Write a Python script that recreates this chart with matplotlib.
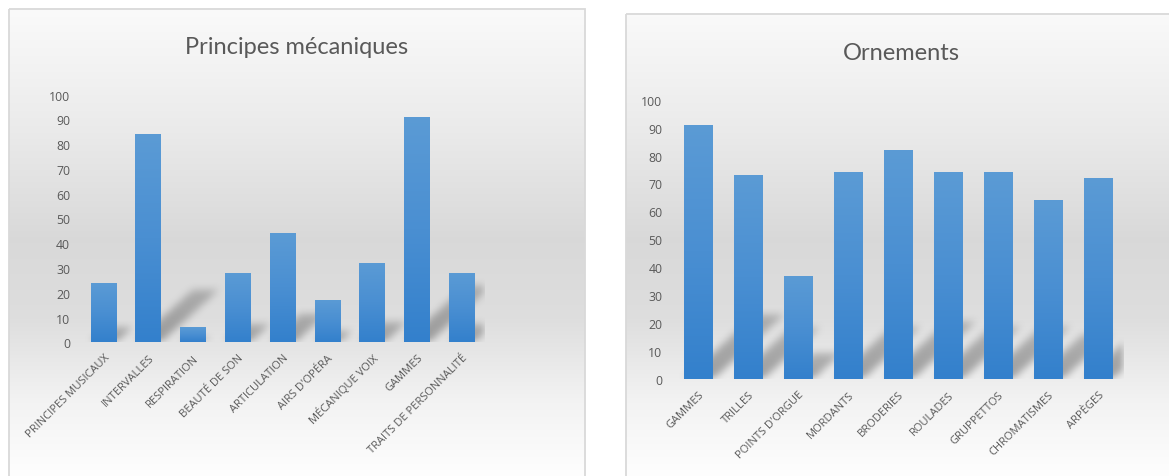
import numpy as np
import matplotlib
matplotlib.use("Agg")
from matplotlib import pyplot as plt
from matplotlib.colors import LinearSegmentedColormap
from matplotlib.patches import Rectangle

# data
cats_left = ["PRINCIPES MUSICAUX", "INTERVALLES", "RESPIRATION", "BEAUTÉ DE SON",
             "ARTICULATION", "AIRS D'OPÉRA", "MÉCANIQUE VOIX", "GAMMES",
             "TRAITS DE PERSONNALITÉ"]
vals_left = [24, 84, 6, 28, 44, 17, 32, 91, 28]

cats_right = ["GAMMES", "TRILLES", "POINTS D'ORGUE", "MORDANTS", "BRODERIES",
              "ROULADES", "GRUPPETTOS", "CHROMATISMES", "ARPÈGES"]
vals_right = [91, 73, 37, 74, 82, 74, 74, 64, 72]

W, H = 1169, 477
plt.rcParams['font.family'] = ['Open Sans', 'DejaVu Sans']
fig = plt.figure(figsize=(W / 100, H / 100), dpi=100)
fig.patch.set_facecolor("white")

# panel backgrounds (white -> gray -> white)
bg = fig.add_axes([0, 0, 1, 1])
bg.set_xlim(0, W)
bg.set_ylim(H, 0)
bg.axis("off")

def panel_gradient(top, bottom):
    ys = np.linspace(top, bottom, 300)
    stops_y = [0, 40, 130, 240, 320, 400, 477]
    stops_v = [0.985, 0.965, 0.92, 0.85, 0.87, 0.95, 0.995]
    v = np.interp(ys, stops_y, stops_v)
    return np.repeat(v[:, None], 3, axis=1)[:, None, :]

for (l, r, t) in [(9, 585, 10), (626, W + 5, 15)]:
    bg.imshow(panel_gradient(t, H + 2), extent=(l, r, H + 2, t), aspect="auto",
              origin="upper", interpolation="bilinear")
    bg.add_patch(Rectangle((l, t), r - l, H + 10 - t, fill=False,
                           ec="#d9d9d9", lw=1.3))
bg.set_xlim(0, W)
bg.set_ylim(H, 0)

bar_cmap = LinearSegmentedColormap.from_list("bar", ["#3380cc", "#4a8fd2", "#5b9bd5"])


def box_blur(a, r):
    k = np.ones(2 * r + 1) / (2 * r + 1)
    for _ in range(2):
        a = np.apply_along_axis(lambda m: np.convolve(m, k, mode="same"), 0, a)
        a = np.apply_along_axis(lambda m: np.convolve(m, k, mode="same"), 1, a)
    return a


def draw_chart(rect, cats, vals, title, title_xy):
    ax = fig.add_axes(rect)
    ax.set_facecolor("none")
    x = np.arange(len(cats))
    width = 0.58
    xlim = (-0.5, len(cats) - 0.5)
    ax.set_xlim(*xlim)
    ax.set_ylim(0, 100)

    # perspective shadows
    px_w = rect[2] * W
    px_h = rect[3] * H
    nx, ny = int(px_w), int(px_h)
    gx = np.linspace(xlim[0], xlim[1], nx)
    gy = np.linspace(0, 100, ny)
    XX, YY = np.meshgrid(gx, gy)
    mask = np.zeros_like(XX)
    for xi, v in zip(x, vals):
        hs = 0.25 * v
        dx = 1.1 * hs * (px_h / 100) / (px_w / len(cats))
        frac = np.clip(YY / max(hs, 1e-6), 0, None)
        left = xi - width / 2 + dx * frac
        inside = (YY <= hs) & (XX >= left) & (XX <= left + width)
        mask = np.maximum(mask, inside * (1 - 0.3 * frac))
    mask = box_blur(mask, 4)
    shadow = np.zeros((ny, nx, 4))
    shadow[..., :3] = 0.42
    shadow[..., 3] = np.clip(mask, 0, 1) * 0.6
    ax.imshow(shadow, extent=(xlim[0], xlim[1], 0, 100), origin="lower",
              aspect="auto", zorder=1, interpolation="bilinear")

    bars = ax.bar(x, vals, width=width, color="none", zorder=3)
    grad = np.linspace(0, 1, 256)[:, None]
    for b in bars:
        x0, y0 = b.get_x(), b.get_y()
        im = ax.imshow(grad, extent=(x0, x0 + b.get_width(), y0, y0 + b.get_height()),
                       origin="lower", aspect="auto", cmap=bar_cmap, zorder=2)
        im.set_clip_path(b)

    ax.set_xlim(*xlim)
    ax.set_ylim(0, 100)
    ax.set_yticks(range(0, 101, 10))
    ax.set_xticks(x)
    ax.set_xticklabels(cats, rotation=45, ha="right", rotation_mode="anchor")
    ax.tick_params(axis="both", length=0, labelcolor="#595959")
    ax.tick_params(axis="y", pad=8, labelsize=8.8)
    ax.tick_params(axis="x", pad=7, labelsize=8)
    for s in ax.spines.values():
        s.set_visible(False)
    fig.text(title_xy[0] / W, 1 - title_xy[1] / H, title, ha="center", va="center",
             fontsize=17, color="#595959", family=["Lato", "DejaVu Sans"])
    return ax


draw_chart([81.3 / W, 1 - 343.3 / H, 403.1 / W, 247.6 / H],
           cats_left, vals_left, "Principes mécaniques", (297, 48))
draw_chart([673.5 / W, 1 - 380 / H, 449.8 / W, 279.3 / H],
           cats_right, vals_right, "Ornements", (901, 53))

fig.savefig("out.png", dpi=100)
